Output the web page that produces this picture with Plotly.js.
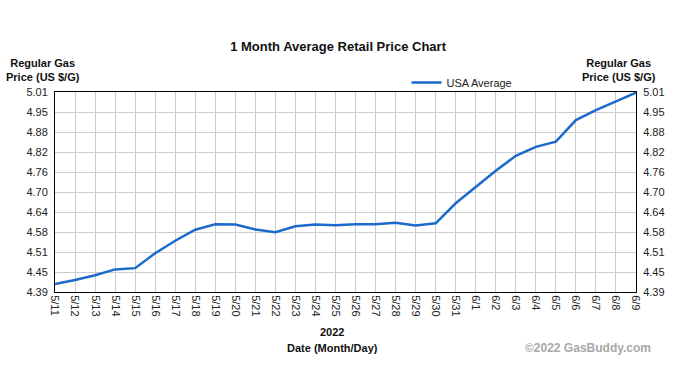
<!DOCTYPE html>
<html>
<head>
<meta charset="utf-8">
<script src="https://cdn.plot.ly/plotly-3.0.1.min.js"></script>
<style>html,body{margin:0;padding:0;background:#fff;}#chart{width:690px;height:385px;}</style>
</head>
<body>
<div id="chart"></div>
<script>
const dates = ["5/11","5/12","5/13","5/14","5/15","5/16","5/17","5/18","5/19","5/20",
  "5/21","5/22","5/23","5/24","5/25","5/26","5/27","5/28","5/29","5/30",
  "5/31","6/1","6/2","6/3","6/4","6/5","6/6","6/7","6/8","6/9"];
const usaAverage = [4.415,4.427,4.442,4.460,4.464,4.510,4.549,4.583,4.600,4.599,
  4.584,4.575,4.594,4.599,4.597,4.600,4.600,4.605,4.596,4.603,
  4.665,4.716,4.766,4.812,4.840,4.856,4.923,4.954,4.980,5.008];
const yTickVals = [4.39,4.452,4.514,4.576,4.638,4.70,4.762,4.824,4.886,4.948,5.01];
const yTickText = ["4.39","4.45","4.51","4.58","4.64","4.70","4.76","4.82","4.88","4.95","5.01"];

const F = 'Arial, "Liberation Sans", sans-serif';
const trace = {
  x: dates, y: usaAverage, type: 'scatter', mode: 'lines', name: 'USA Average',
  line: {color: '#1d6acb', width: 2.5}
};
const trace2 = {
  x: dates, y: usaAverage, type: 'scatter', mode: 'lines', yaxis: 'y2',
  showlegend: false, hoverinfo: 'skip', line: {color: 'rgba(0,0,0,0)', width: 0}
};
const yBase = {
  range: [4.39, 5.01], tickmode: 'array', tickvals: yTickVals, ticktext: yTickText,
  ticks: '', ticklabelstandoff: 4, tickfont: {family: F, size: 11, color: '#222'},
  showline: true, linecolor: '#000', linewidth: 1, zeroline: false, fixedrange: true
};
const layout = {
  width: 690, height: 385,
  margin: {l: 55, r: 54, t: 92, b: 93},
  paper_bgcolor: '#fff', plot_bgcolor: '#fff',
  title: {text: '<b>1 Month Average Retail Price Chart</b>', x: 0.49, xanchor: 'center',
    y: 1 - 46/385, yanchor: 'middle', font: {family: F, size: 13, color: '#111'}},
  showlegend: true,
  legend: {orientation: 'h', x: 0.605, xanchor: 'left', y: 0.975, yanchor: 'bottom',
    font: {family: F, size: 11, color: '#222'}, bgcolor: 'rgba(0,0,0,0)', borderwidth: 0},
  xaxis: {
    type: 'category', tickangle: 90, ticks: '', tickfont: {family: F, size: 11, color: '#222'},
    showgrid: true, gridcolor: '#cccccc', gridwidth: 1,
    showline: true, linecolor: '#000', linewidth: 1, mirror: true,
    range: [0, dates.length - 1], fixedrange: true
  },
  yaxis: Object.assign({}, yBase, {showgrid: true, gridcolor: '#cccccc', gridwidth: 1, mirror: true}),
  yaxis2: Object.assign({}, yBase, {overlaying: 'y', side: 'right', showgrid: false}),
  annotations: [
    {text: '<b>Regular Gas<br>Price (US $/G)</b>', xref: 'paper', yref: 'paper',
      x: -0.021, y: 1.035, xanchor: 'center', yanchor: 'bottom', showarrow: false,
      font: {family: F, size: 11, color: '#111'}},
    {text: '<b>Regular Gas<br>Price (US $/G)</b>', xref: 'paper', yref: 'paper',
      x: 0.971, y: 1.035, xanchor: 'center', yanchor: 'bottom', showarrow: false,
      font: {family: F, size: 11, color: '#111'}},
    {text: '<b>2022</b>', xref: 'paper', yref: 'paper', x: 0.477, y: -0.2,
      xanchor: 'center', yanchor: 'middle', showarrow: false,
      font: {family: F, size: 11, color: '#111'}},
    {text: '<b>Date (Month/Day)</b>', xref: 'paper', yref: 'paper', x: 0.477, y: -0.28,
      xanchor: 'center', yanchor: 'middle', showarrow: false,
      font: {family: F, size: 11, color: '#111'}},
    {text: '<b>©2022 GasBuddy.com</b>', xref: 'paper', yref: 'paper', x: 0.917, y: -0.28,
      xanchor: 'center', yanchor: 'middle', showarrow: false,
      font: {family: F, size: 12, color: '#a8a8a8'}}
  ]
};
Plotly.newPlot('chart', [trace, trace2], layout, {displayModeBar: false, staticPlot: true});
</script>
</body>
</html>
